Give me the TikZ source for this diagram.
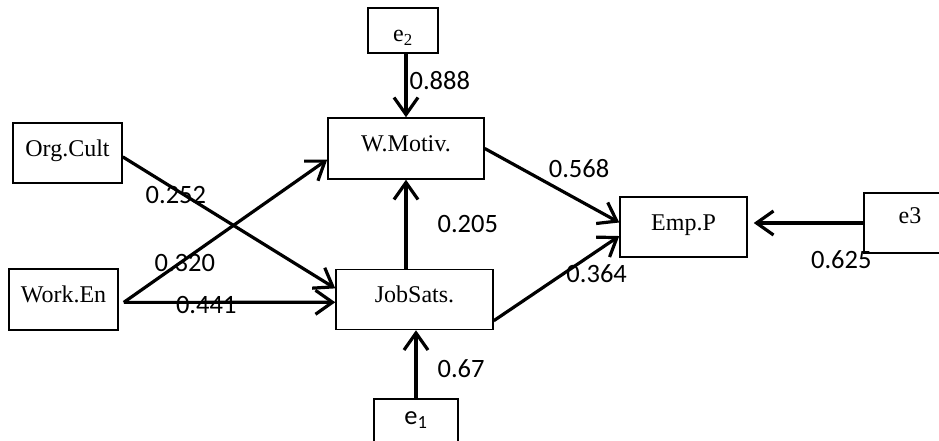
\documentclass[tikz,border=0pt]{standalone}
\usepackage{fontspec}
\setmainfont{Liberation Serif}
\newfontfamily\calibri{Carlito}
\usetikzlibrary{arrows.meta}

\begin{document}
\begin{tikzpicture}[x=1pt, y=-1pt, >={Straight Barb[length=17pt,width=24pt]},
  box/.style={draw, line width=1.5pt, inner sep=0pt, font=\fontsize{24}{28}\selectfont, text height=17pt, text depth=11pt},
  link/.style={->, line width=3.2pt},
  coef/.style={font=\calibri\fontsize{26.5}{30}\selectfont, inner sep=2pt}]
\useasboundingbox (0,0) rectangle (939,441);
\clip (0,0) rectangle (939,441);
\node[box, minimum width=109pt, minimum height=60pt] (orgCult) at (67.5,153) {Org.Cult};
\node[box, minimum width=109pt, minimum height=61pt] (workEn) at (63.5,299.5) {Work.En};
\node[box, minimum width=156pt, minimum height=61pt] (wMotiv) at (406,148.5) {W.Motiv.};
\node[box, minimum width=157pt, minimum height=60pt] (jobSats) at (414.5,299.5) {JobSats.};
\node[box, minimum width=127pt, minimum height=60pt] (empP) at (683.5,227) {Emp.P};
\node[box, minimum width=70pt, minimum height=45pt, text height=23pt, text depth=0pt] (e2) at (403,30.5) {e\textsubscript{2}};
\node[box, minimum width=84pt, minimum height=45pt, font=\calibri\fontsize{26.5}{30}\selectfont] (e1) at (416,421.5) {e\textsubscript{1}};
\node[box, minimum width=92pt, minimum height=60pt, text height=12pt, text depth=12pt] (e3) at (910,223) {e3};
\draw[link] (e2.south -| wMotiv.north) to node[coef, right, pos=0.42] {0.888} (wMotiv.north);
\draw[link] (orgCult.-4) to node[coef, pos=0.25, yshift=-5pt] {0.252} (jobSats.172);
\draw[link] ([xshift=5pt]workEn.-3) to node[coef, pos=0.3, yshift=-3.5pt] {0.320} (wMotiv.188);
\draw[link] ([xshift=5pt]workEn.-3) to node[coef, pos=0.39, yshift=-3pt] {0.441} (jobSats.182);
\draw[link] (jobSats.north -| wMotiv.south) to node[coef, right=28pt, pos=0.5] {0.205} (wMotiv.south);
\draw[link] (e1.north) to node[coef, right=18pt, pos=0.44] {0.67} (e1.north |- jobSats.south);
\draw[link] (wMotiv.east) to node[coef, above right, pos=0.45] {0.568} (empP.176);
\draw[link] (jobSats.-15) to node[coef, below=10pt, pos=0.82] {0.364} (empP.188);
\draw[link, shorten >=6pt] (e3.west) to node[coef, below=24pt, pos=0.19] {0.625} (e3.west -| empP.east);
\end{tikzpicture}
\end{document}
